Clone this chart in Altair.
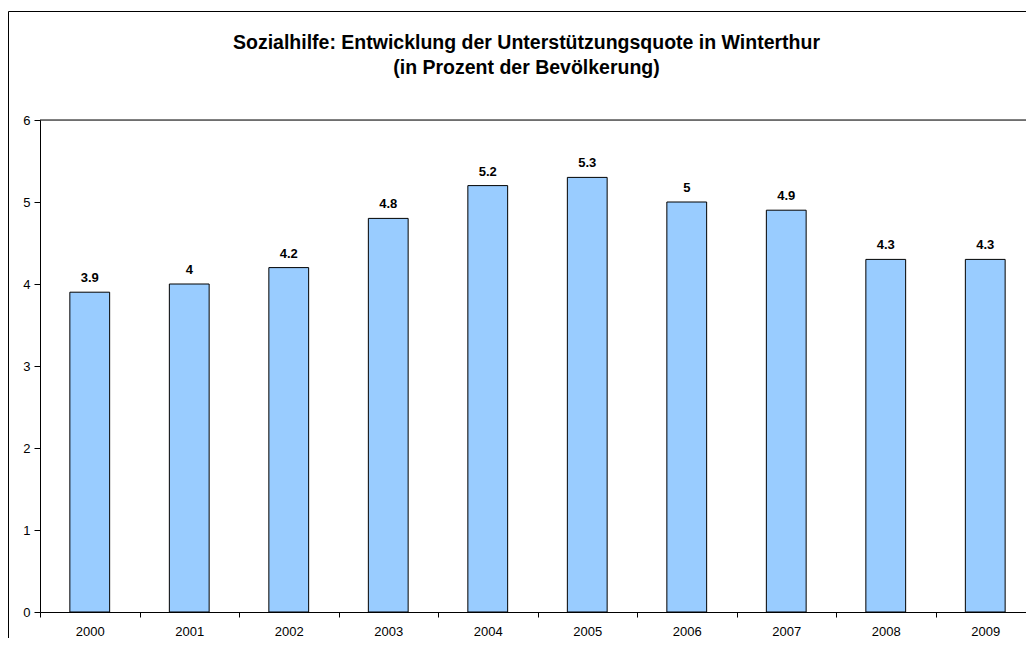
import altair as alt
import pandas as pd

years = ["2000", "2001", "2002", "2003", "2004", "2005", "2006", "2007", "2008", "2009"]
values = [3.9, 4.0, 4.2, 4.8, 5.2, 5.3, 5.0, 4.9, 4.3, 4.3]
y_ticks = [0, 1, 2, 3, 4, 5, 6]
title_lines = ["Sozialhilfe: Entwicklung der Unterstützungsquote in Winterthur",
               "(in Prozent der Bevölkerung)"]

df = pd.DataFrame({"year": years, "value": values})
one_df = pd.DataFrame({"f": [0]})

FONT = "Liberation Sans"
W, H = 986, 492
XR = 995

x_enc = alt.X(
    "year:N", sort=years,
    scale=alt.Scale(range=[0, XR], paddingInner=0, paddingOuter=0),
    axis=alt.Axis(title=None, labelAngle=0, tickBand="extent", tickSize=5,
                  labelPadding=8, labelFontSize=13, labelFont=FONT,
                  labelColor="black", domainColor="black", tickColor="black",
                  grid=False),
)
y_enc = alt.Y(
    "value:Q",
    scale=alt.Scale(domain=[0, 6], nice=False, zero=True),
    axis=alt.Axis(title=None, values=y_ticks, format="d", tickSize=6,
                  labelPadding=4, labelFontSize=13, labelFont=FONT,
                  labelColor="black", domainColor="black", tickColor="black",
                  grid=False),
)

bars = alt.Chart(df).mark_bar(
    color="#99CCFF", stroke="black", strokeWidth=1,
    width=alt.RelativeBandSize(0.4)
).encode(x=x_enc, y=y_enc)

labels = alt.Chart(df).mark_text(
    dy=-10, baseline="alphabetic", align="center", font=FONT,
    fontSize=13, fontWeight="bold", color="black"
).encode(
    x=alt.X("year:N", sort=years),
    y=alt.Y("value:Q"),
    text=alt.Text("value:Q"),
)

top_line = alt.Chart(one_df).mark_rule(color="black", strokeWidth=1).encode(
    y=alt.datum(6), x=alt.value(0), x2=alt.value(W)
)

frame_left = alt.Chart(one_df).mark_rule(color="black", strokeWidth=1).encode(
    x=alt.value(-31.5), y=alt.value(-108.5), y2=alt.value(H + 26)
)
frame_top = alt.Chart(one_df).mark_rule(color="black", strokeWidth=1).encode(
    y=alt.value(-108.5), x=alt.value(-31.5), x2=alt.value(W)
)

TX = 486.5
title1 = alt.Chart(one_df).mark_text(
    font=FONT, fontSize=19.5, fontWeight="bold", color="black",
    align="center", baseline="alphabetic"
).encode(x=alt.value(TX), y=alt.value(-71), text=alt.value(title_lines[0]))

title2 = alt.Chart(one_df).mark_text(
    font=FONT, fontSize=19.5, fontWeight="bold", color="black",
    align="center", baseline="alphabetic"
).encode(x=alt.value(TX), y=alt.value(-46), text=alt.value(title_lines[1]))

chart = alt.layer(frame_left, frame_top, bars, labels, top_line, title1, title2).properties(
    width=W, height=H,
    autosize=alt.AutoSizeParams(type="none"),
    padding={"left": 32, "top": 112, "right": 0, "bottom": 26},
).configure_view(stroke=None).configure(background="white")

chart.save("out.html", embed_options={"renderer": "svg", "actions": False})
